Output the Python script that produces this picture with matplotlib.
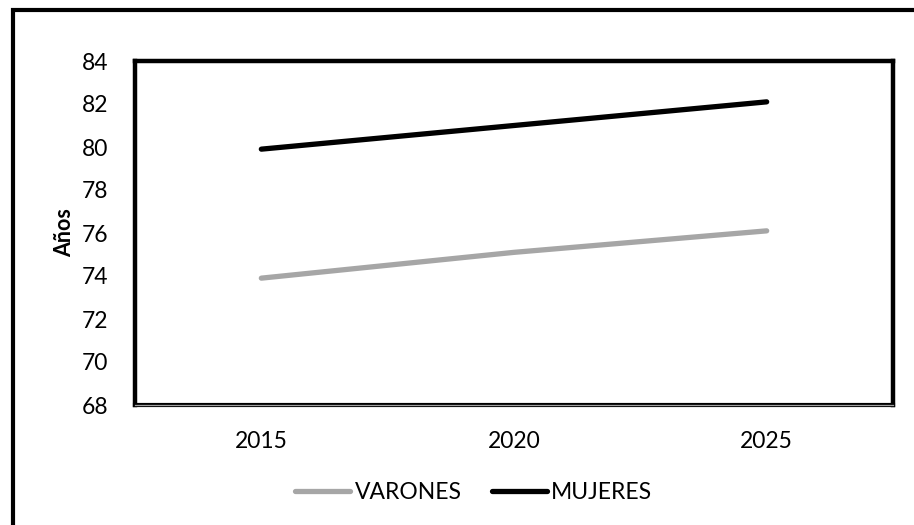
import matplotlib
matplotlib.use("Agg")
import matplotlib.pyplot as plt
from matplotlib.lines import Line2D

years = ["2015", "2020", "2025"]
varones = [73.9, 75.1, 76.1]
mujeres = [79.9, 81.0, 82.1]
yticks = [68, 70, 72, 74, 76, 78, 80, 82, 84]

plt.rcParams['font.family'] = ['Lato', 'DejaVu Sans']

W, H = 914, 525
fig = plt.figure(figsize=(W / 100, H / 100), dpi=100)
ax = fig.add_axes([135 / W, 1 - 405 / H, (893 - 135) / W, (405 - 61) / H])

x = range(len(years))
ax.plot(x, varones, color="#A6A6A6", lw=3.8, solid_capstyle="round", label="VARONES")
ax.plot(x, mujeres, color="black", lw=3.8, solid_capstyle="round", label="MUJERES")

ax.set_xlim(-0.5, 2.5)
ax.set_ylim(68, 84)
ax.set_xticks(list(x))
ax.set_xticklabels(years)
ax.set_yticks(yticks)
ax.tick_params(axis="both", length=0, labelsize=16.5)
ax.tick_params(axis="y", pad=19)
ax.tick_params(axis="x", pad=19)

for s in ["top", "left", "right"]:
    ax.spines[s].set_linewidth(3.2)
    ax.spines[s].set_color("black")
ax.spines["bottom"].set_linewidth(3.0)
ax.spines["bottom"].set_color("black")
ax.spines["bottom"].set_capstyle("projecting")
for s in ax.spines.values():
    s.set_zorder(3)
ax.plot([0, 1], [0, 0], transform=ax.transAxes, color="#A0A0A0", lw=0.9, zorder=4, clip_on=False)

ax.set_ylabel("Años", fontsize=15.5, fontweight="bold", labelpad=5)

leg = ax.legend(loc="upper center", bbox_to_anchor=(0.447, -0.165), ncol=2, frameon=False,
                fontsize=16.5, handlelength=2.4, handletextpad=0.2, columnspacing=1.3)

# outer chart border (left and top visible)
fig.add_artist(Line2D([12.5 / W, 12.5 / W, 1.0], [0.0, 1 - 9.5 / H, 1 - 9.5 / H],
                      transform=fig.transFigure, color="black", lw=3.0,
                      solid_joinstyle="miter"))

fig.savefig("out.png", dpi=100)
